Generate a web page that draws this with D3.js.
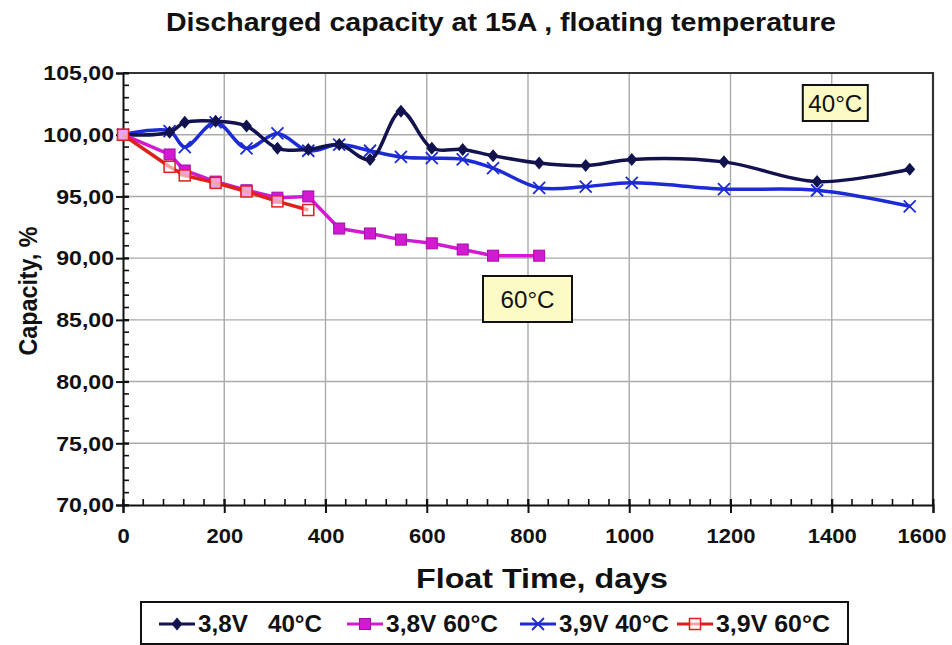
<!DOCTYPE html>
<html>
<head>
<meta charset="utf-8">
<script src="https://cdnjs.cloudflare.com/ajax/libs/d3/7.8.5/d3.min.js"></script>
<style>
  body { margin: 0; background: #fff; }
  text { font-family: "Liberation Sans", Arial, sans-serif; font-weight: bold; }
</style>
</head>
<body>
<div id="chart"></div>
<script>
// float time in days and capacity in %
const days40 = [0, 92, 122, 183, 244, 305, 366, 427, 488, 549, 610, 671, 731, 822, 914, 1005, 1187, 1371, 1554];
const cap38v40 = [100.0, 100.2, 101.0, 101.1, 100.7, 98.9, 98.8, 99.2, 98.0, 101.9, 98.9, 98.8, 98.3, 97.7, 97.5, 98.0, 97.8, 96.2, 97.2];
const cap39v40 = [100.0, 100.3, 99.0, 101.0, 98.9, 100.1, 98.7, 99.2, 98.7, 98.2, 98.1, 98.0, 97.3, 95.7, 95.8, 96.1, 95.6, 95.5, 94.2];

const days38v60 = [0, 92, 122, 183, 244, 305, 366, 427, 488, 549, 610, 671, 731, 822];
const cap38v60 = [100.0, 98.4, 97.1, 96.2, 95.5, 94.9, 95.0, 92.4, 92.0, 91.5, 91.2, 90.7, 90.2, 90.2];

const days39v60 = [0, 92, 122, 183, 244, 305, 366];
const cap39v60 = [100.0, 97.4, 96.7, 96.1, 95.4, 94.6, 93.9];

const seriesNames = ["3,8V   40°C", "3,8V 60°C", "3,9V 40°C", "3,9V 60°C"];
const xTicks = [0, 200, 400, 600, 800, 1000, 1200, 1400, 1600];
const yTicks = [70, 75, 80, 85, 90, 95, 100, 105];

const width = 952, height = 645;
const margin = { left: 123, right: 19, top: 73, bottom: 140 };

const svg = d3.select("#chart").append("svg")
  .attr("width", width)
  .attr("height", height);

const x = d3.scaleLinear().domain([0, 1600]).range([margin.left, width - margin.right]);
const y = d3.scaleLinear().domain([70, 105]).range([height - margin.bottom, margin.top]);

// the source picture is a bit wider than plain Arial, so stretch texts horizontally
const stretch = (sel, k, fixed) => {
  sel.each(function () {
    const len = this.getComputedTextLength();
    d3.select(this)
      .attr("textLength", fixed ? fixed : len * k)
      .attr("lengthAdjust", "spacingAndGlyphs");
  });
};

// grid
svg.append("g")
  .selectAll("line")
  .data(xTicks.slice(1, -1))
  .join("line")
  .attr("x1", d => x(d)).attr("x2", d => x(d))
  .attr("y1", y(105)).attr("y2", y(70))
  .attr("stroke", "#aaa").attr("stroke-width", 1.4);
svg.append("g")
  .selectAll("line")
  .data(yTicks.slice(1, -1))
  .join("line")
  .attr("x1", x(0)).attr("x2", x(1600))
  .attr("y1", d => y(d)).attr("y2", d => y(d))
  .attr("stroke", "#aaa").attr("stroke-width", 1.4);

// plot border (top and right)
svg.append("path")
  .attr("d", `M${x(0)},${y(105)}H${x(1600)}V${y(70)}`)
  .attr("fill", "none").attr("stroke", "#333").attr("stroke-width", 2.2);

// minor ticks
svg.append("g")
  .selectAll("line")
  .data(d3.range(0, 1601, 40))
  .join("line")
  .attr("x1", d => x(d)).attr("x2", d => x(d))
  .attr("y1", y(70) - 6).attr("y2", y(70))
  .attr("stroke", "#111").attr("stroke-width", 1.6);
svg.append("g")
  .selectAll("line")
  .data(d3.range(70, 105.1, 1))
  .join("line")
  .attr("x1", x(0)).attr("x2", x(0) + 6)
  .attr("y1", d => y(d)).attr("y2", d => y(d))
  .attr("stroke", "#111").attr("stroke-width", 1.6);

// axes
const xAxis = svg.append("g")
  .attr("transform", `translate(0,${y(70)})`)
  .call(d3.axisBottom(x).tickValues(xTicks).tickSize(8).tickPadding(16).tickFormat(d3.format("d")));
xAxis.select(".domain").attr("stroke", "#111").attr("stroke-width", 2);
xAxis.selectAll(".tick line").attr("stroke", "#111").attr("stroke-width", 2).attr("y1", -6);
xAxis.selectAll(".tick text").attr("font-size", 20).attr("fill", "#111")
  .style("font-family", "'Liberation Sans', Arial, sans-serif").style("font-weight", "bold");
stretch(xAxis.selectAll(".tick text"), 1.1);
// last label is pulled inside the picture, as in the source
xAxis.selectAll(".tick text").filter(d => d === 1600).attr("text-anchor", "end").attr("x", 13);

const yAxis = svg.append("g")
  .attr("transform", `translate(${x(0)},0)`)
  .call(d3.axisLeft(y).tickValues(yTicks).tickSize(7).tickPadding(2).tickFormat(d => d3.format(".2f")(d).replace(".", ",")));
yAxis.select(".domain").attr("stroke", "#111").attr("stroke-width", 2);
yAxis.selectAll(".tick line").attr("stroke", "#111").attr("stroke-width", 2).attr("x1", 6);
yAxis.selectAll(".tick text").attr("font-size", 21).attr("fill", "#111")
  .style("font-family", "'Liberation Sans', Arial, sans-serif").style("font-weight", "bold");
stretch(yAxis.selectAll(".tick text"), 1.1);

// titles
svg.append("text")
  .attr("x", 501).attr("y", 31)
  .attr("text-anchor", "middle").attr("font-size", 26).attr("fill", "#111")
  .text("Discharged capacity at 15A , floating temperature")
  .call(stretch, 1, 670);
svg.append("text")
  .attr("x", 542).attr("y", 588)
  .attr("text-anchor", "middle").attr("font-size", 27).attr("fill", "#111")
  .text("Float Time, days")
  .call(stretch, 1, 252);
svg.append("text")
  .attr("transform", `translate(37,291) rotate(-90)`)
  .attr("text-anchor", "middle").attr("font-size", 25).attr("fill", "#111")
  .text("Capacity, %")
  .call(stretch, 1, 129);

// annotation boxes
const notes = [{ t: "40°C", d: 1407, v: 102.57, w: 65, h: 36 }, { t: "60°C", d: 799, v: 86.69, w: 89, h: 46 }];
notes.forEach(n => {
  const g = svg.append("g").attr("transform", `translate(${x(n.d)},${y(n.v)})`);
  g.append("rect")
    .attr("x", -n.w / 2).attr("y", -n.h / 2)
    .attr("width", n.w).attr("height", n.h)
    .attr("fill", "#fcfbc6").attr("stroke", "#111").attr("stroke-width", 2);
  g.append("text")
    .attr("text-anchor", "middle").attr("dy", "0.36em")
    .attr("font-size", 24).style("font-weight", "normal").attr("fill", "#111")
    .text(n.t)
    .call(stretch, 1, 54);
});

// series
const series = [
  { name: seriesNames[0], xs: days40, ys: cap38v40, color: "#12124e", marker: "diamond", curve: d3.curveCatmullRom },
  { name: seriesNames[1], xs: days38v60, ys: cap38v60, color: "#d21ad2", marker: "square", curve: d3.curveLinear },
  { name: seriesNames[2], xs: days40, ys: cap39v40, color: "#1c2bd6", marker: "x", curve: d3.curveCatmullRom },
  { name: seriesNames[3], xs: days39v60, ys: cap39v60, color: "#e0201a", marker: "open", curve: d3.curveLinear }
];

const drawMarker = (g, type, color) => {
  if (type === "diamond") {
    g.append("path").attr("d", "M0,-6.5L5.5,0L0,6.5L-5.5,0Z").attr("fill", color);
  } else if (type === "square") {
    g.append("rect").attr("x", -5.5).attr("y", -5.5).attr("width", 11).attr("height", 11)
      .attr("fill", color).attr("stroke", "#a80ca8").attr("stroke-width", 1);
  } else if (type === "x") {
    g.append("path").attr("d", "M-6,-6L6,6M-6,6L6,-6").attr("stroke", color).attr("stroke-width", 1.8);
  } else {
    g.append("rect").attr("x", -5.5).attr("y", -5.5).attr("width", 11).attr("height", 11)
      .attr("fill", "#fff").attr("fill-opacity", 0.6).attr("stroke", color).attr("stroke-width", 1.5);
  }
};

const order = [2, 0, 1, 3];
order.forEach(i => {
  const s = series[i];
  const pts = s.xs.map((d, j) => [d, s.ys[j]]);
  const line = d3.line().x(d => x(d[0])).y(d => y(d[1])).curve(s.curve);
  svg.append("path").datum(pts)
    .attr("d", line).attr("fill", "none")
    .attr("stroke", s.color).attr("stroke-width", 3.5).attr("stroke-linejoin", "round");
  svg.append("g").selectAll("g").data(pts).join("g")
    .attr("transform", d => `translate(${x(d[0])},${y(d[1])})`)
    .each(function () { drawMarker(d3.select(this), s.marker, s.color); });
});

// legend
const legend = svg.append("g");
legend.append("rect")
  .attr("x", 141).attr("y", 602).attr("width", 707).attr("height", 42)
  .attr("fill", "#fff").attr("stroke", "#111").attr("stroke-width", 2);
const legX = [159, 347, 520, 677];
const legW = [124, 112, 110, 114];
series.forEach((s, i) => {
  const g = legend.append("g").attr("transform", `translate(${legX[i]},624)`);
  g.append("line").attr("x1", 0).attr("x2", 36).attr("stroke", s.color).attr("stroke-width", 3);
  const m = g.append("g").attr("transform", "translate(18,0)");
  drawMarker(m, s.marker, s.color);
  g.append("text").attr("x", 39).attr("dy", "0.36em").attr("font-size", 23).attr("fill", "#111")
    .style("white-space", "pre")
    .text(s.name)
    .call(stretch, 1, legW[i]);
});
</script>
</body>
</html>
